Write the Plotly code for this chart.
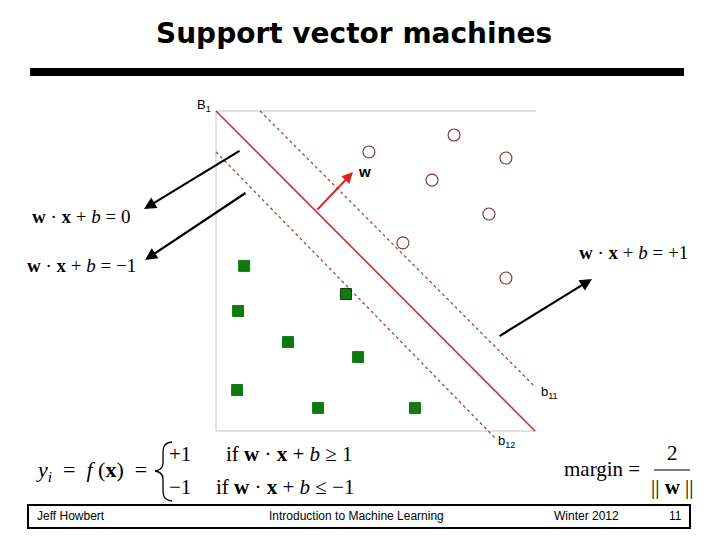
import plotly.graph_objects as go

# ---------------- data (panel units: 0..10 on both axes) ----------------
circle_x = [4.78, 7.44, 9.06, 6.75, 8.53, 5.84, 9.06]
circle_y = [8.72, 9.25, 8.53, 7.84, 6.78, 5.88, 4.78]

square_x = [0.88, 4.06, 0.69, 2.25, 4.44, 0.66, 3.19, 6.22]
square_y = [5.16, 4.28, 3.75, 2.78, 2.31, 1.28, 0.72, 0.72]
square_support = [False, True, False, False, False, False, False, False]

frame_x = [10, 0, 0, 10]
frame_y = [10, 10, 0, 0]

boundary_x = [0.0, 9.97]          # B1
boundary_y = [10.0, 0.0]
upper_margin_x = [1.38, 9.91]     # b11
upper_margin_y = [10.0, 1.44]
lower_margin_x = [0.0, 8.78]      # b12
lower_margin_y = [8.72, -0.28]

w_tail = [3.12, 6.87]
w_head = [4.28, 8.09]

title_text = "Support vector machines"
footer_texts = ["Jeff Howbert", "Introduction to Machine Learning", "Winter 2012", "11"]

# ---------------- figure ----------------
W, H = 720, 540
fig = go.Figure()

line_red = "#d42c2c"
dot_red = "#a84040"

fig.add_trace(go.Scatter(x=frame_x, y=frame_y, mode="lines",
                         line=dict(color="#c4c4c4", width=1), hoverinfo="skip"))
fig.add_trace(go.Scatter(x=upper_margin_x, y=upper_margin_y, mode="lines",
                         line=dict(color=dot_red, width=1.3, dash="dot"), hoverinfo="skip"))
fig.add_trace(go.Scatter(x=lower_margin_x, y=lower_margin_y, mode="lines",
                         line=dict(color=dot_red, width=1.3, dash="dot"), hoverinfo="skip"))
fig.add_trace(go.Scatter(x=boundary_x, y=boundary_y, mode="lines",
                         line=dict(color=line_red, width=1.6), hoverinfo="skip"))
fig.add_trace(go.Scatter(x=circle_x, y=circle_y, mode="markers",
                         marker=dict(symbol="circle-open", size=12, color="#7a3434",
                                     line=dict(width=1.1))))
fig.add_trace(go.Scatter(x=square_x, y=square_y, mode="markers",
                         marker=dict(symbol="square", size=11, color="#107a10",
                                     line=dict(width=1,
                                               color=["#083808" if s else "#107a10" for s in square_support]))))

# pixel-space overlay axes for slide decorations
ann = []
shapes = []

def txt(x, y, t, size=20, family="Liberation Serif", anchor="left", yanchor="middle", color="black"):
    ann.append(dict(x=x, y=y, xref="x2", yref="y2", text=t, showarrow=False,
                    xanchor=anchor, yanchor=yanchor,
                    font=dict(family=family, size=size, color=color)))

def arrow(x0, y0, x1, y1, color="black", width=2.2):
    ann.append(dict(x=x1, y=y1, xref="x2", yref="y2", ax=x0, ay=y0, axref="x2", ayref="y2",
                    text="", showarrow=True, arrowhead=2, arrowsize=1.1, arrowwidth=width,
                    arrowcolor=color))

# w arrow in data units
ann.append(dict(x=w_head[0], y=w_head[1], xref="x", yref="y", ax=w_tail[0], ay=w_tail[1],
                axref="x", ayref="y", text="", showarrow=True, arrowhead=2, arrowsize=1.1,
                arrowwidth=2, arrowcolor="#e02020"))

# title and bar
txt(354, 33, "<b>" + title_text + "</b>", size=28, family="DejaVu Sans", anchor="center")
shapes.append(dict(type="rect", xref="x2", yref="y2", x0=30, x1=684, y0=68, y1=76,
                   fillcolor="black", line=dict(width=0)))

# labels around panel
txt(204, 105, "B<sub>1</sub>", size=13, family="Liberation Sans", anchor="center")
txt(364, 171, "<b>w</b>", size=15, family="Liberation Sans", anchor="center")
txt(549, 392, "b<sub>11</sub>", size=13, family="Liberation Sans", anchor="center")
txt(506, 441, "b<sub>12</sub>", size=13, family="Liberation Sans", anchor="center")

# black arrows
arrow(241, 150, 144, 209)
arrow(247, 192, 145, 260)
arrow(498, 337, 592, 279)

# equations
txt(30, 216, "<b>w</b> · <b>x</b> + <i>b</i> = 0", size=19)
txt(25, 265, "<b>w</b> · <b>x</b> + <i>b</i> = −1", size=19)
txt(577, 252, "<b>w</b> · <b>x</b> + <i>b</i> = +1", size=19)

# piecewise
txt(34, 471, "<i>y<sub>i</sub></i>  =  <i>f</i> (<b>x</b>)  =", size=22)
shapes.append(dict(type="path", xref="x2", yref="y2",
                   path="M 172,442 C 163,443 163,448 163,455 L 163,463 C 163,467 161,470 155,471 "
                        "C 161,472 163,475 163,479 L 163,488 C 163,495 163,500 172,501",
                   line=dict(color="black", width=1.3)))
txt(167, 454, "+1", size=21)
txt(224, 454, "if <b>w</b> · <b>x</b> + <i>b</i> ≥ 1", size=21)
txt(167, 487, "−1", size=21)
txt(214, 487, "if <b>w</b> · <b>x</b> + <i>b</i> ≤ −1", size=21)

# margin formula
txt(562, 469, "margin =", size=21)
txt(672, 453, "2", anchor="center", size=21)
shapes.append(dict(type="line", xref="x2", yref="y2", x0=654, x1=690, y0=470, y1=470,
                   line=dict(color="black", width=1.2)))
txt(672, 487, "|| <b>w</b> ||", anchor="center", size=21)

# footer
shapes.append(dict(type="rect", xref="x2", yref="y2", x0=28, x1=690, y0=505, y1=528,
                   line=dict(color="black", width=2), fillcolor="rgba(0,0,0,0)"))
ff = "Liberation Sans Narrow, Arial Narrow, Liberation Sans"
txt(35, 516, footer_texts[0], size=12, family=ff)
txt(356, 516, footer_texts[1], size=12, family=ff, anchor="center")
txt(586, 516, footer_texts[2], size=12, family=ff, anchor="center")
txt(675, 516, footer_texts[3], size=12, family=ff, anchor="center")

px_per_unit = 32.0
fig.update_layout(
    width=W, height=H, margin=dict(l=0, r=0, t=0, b=0),
    paper_bgcolor="white", plot_bgcolor="rgba(0,0,0,0)",
    showlegend=False,
    xaxis=dict(range=[-216 / px_per_unit, (W - 216) / px_per_unit], visible=False, domain=[0, 1]),
    yaxis=dict(range=[-(H - 431) / px_per_unit, 431 / px_per_unit], visible=False, domain=[0, 1]),
    xaxis2=dict(range=[0, W], overlaying="x", visible=False),
    yaxis2=dict(range=[H, 0], overlaying="y", visible=False),
    annotations=ann, shapes=shapes,
)
# invisible trace to activate overlay axes
fig.add_trace(go.Scatter(x=[0], y=[0], xaxis="x2", yaxis="y2", mode="markers",
                         marker=dict(opacity=0), hoverinfo="skip"))

fig.write_html("out.html", config={"displayModeBar": False},
               post_script="document.body.style.margin='0px';document.body.style.overflow='hidden';")
